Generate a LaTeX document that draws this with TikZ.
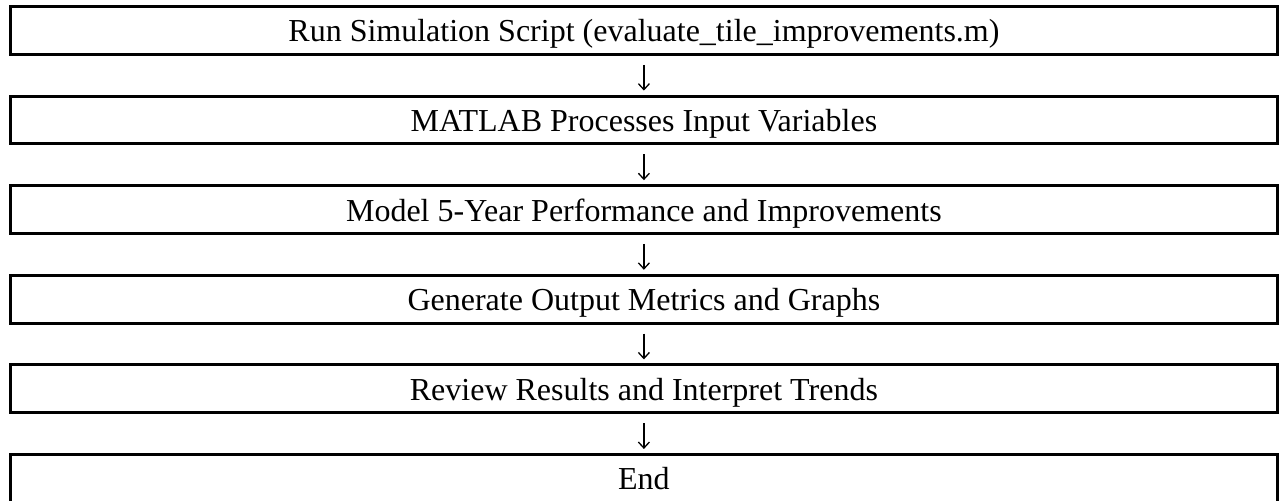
\documentclass[tikz,border=0pt]{standalone}
\usepackage{fontspec}
\setmainfont{Liberation Serif}
\usetikzlibrary{arrows.meta}

\tikzset{
  procbox/.style={draw, line width=1.5pt, rectangle, inner sep=0pt,
    minimum width=633.85pt, minimum height=23.9pt,
    font=\fontsize{16}{19}\selectfont, text height=15.6pt, text depth=4pt},
  flowarrow/.style={line width=0.65pt, -{Straight Barb[length=3pt,width=5.5pt]},
    shorten <=4.5pt, shorten >=2pt}
}

\begin{document}
\begin{tikzpicture}[x=0.5pt,y=-0.5pt]
\useasboundingbox (0,0) rectangle (1279,501);
\foreach \i/\t in {1/Run Simulation Script (evaluate\_tile\_improvements.m),
                   2/MATLAB Processes Input Variables,
                   3/Model 5-Year Performance and Improvements,
                   4/Generate Output Metrics and Graphs,
                   5/Review Results and Interpret Trends,
                   6/End}{
  \node[procbox] (b\i) at (643.9,{30.4+89.6*(\i-1)}) {\t};
}
\foreach \i [evaluate=\i as \j using int(\i+1)] in {1,...,5}{
  \draw[flowarrow] (b\i.south) -- (b\j.north);
}
\end{tikzpicture}
\end{document}
